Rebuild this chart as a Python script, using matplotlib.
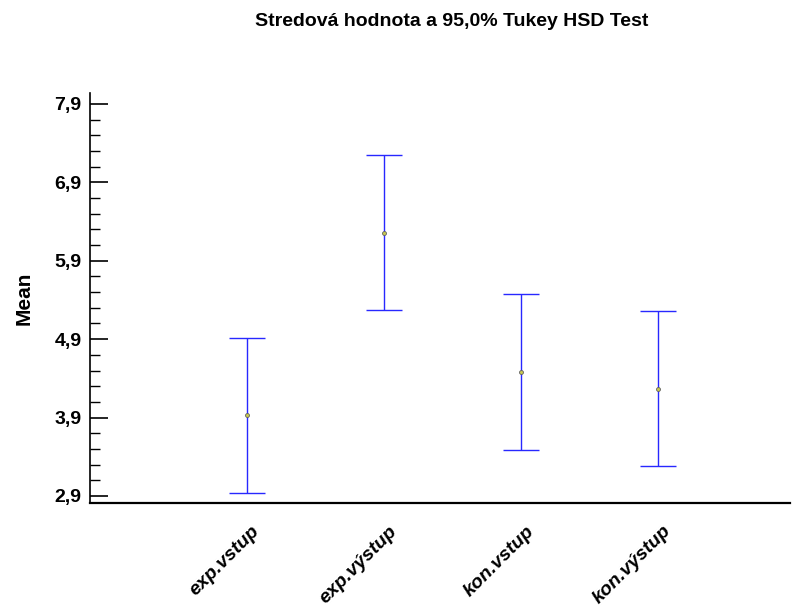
import matplotlib.pyplot as plt
import matplotlib.transforms as mtransforms
import numpy as np

plt.rcParams['font.family'] = ['Liberation Sans', 'DejaVu Sans']

# Data
groups = ["exp.vstup", "exp.výstup", "kon.vstup", "kon.výstup"]
means = [3.93, 6.26, 4.48, 4.27]
half_width = [0.99, 0.99, 0.99, 0.99]
yticks = [2.9, 3.9, 4.9, 5.9, 6.9, 7.9]

fig = plt.figure(figsize=(8.05, 6.15), dpi=100)
ax = fig.add_axes([90 / 805, 112 / 615, 700 / 805, 410 / 615])

x = np.arange(1, len(groups) + 1)
ax.errorbar(x, means, yerr=half_width, fmt='none', ecolor='#2828ff',
            elinewidth=1.0, capsize=13, capthick=1.0)
ax.scatter(x, means, s=8, marker='o', facecolor='#c8c850', edgecolor='#606060',
           linewidth=0.6, zorder=3)

ax.set_xlim(-0.146, 4.96)
ax.set_ylim(2.81, 8.04)

ax.spines['top'].set_visible(False)
ax.spines['right'].set_visible(False)
ax.spines['left'].set_linewidth(1.2)
ax.spines['bottom'].set_linewidth(1.6)

ax.set_yticks(yticks)
ax.set_yticklabels([f"{v:.1f}".replace('.', ',') for v in yticks],
                   fontsize=14, fontweight='bold')
ax.set_yticks(np.arange(2.9, 8.0, 0.2), minor=True)
ax.tick_params(axis='y', which='major', direction='in', length=13, width=1.2, pad=6)
ax.tick_params(axis='y', which='minor', direction='in', length=7, width=1.0)

ax.set_xticks(x)
ax.set_xticklabels(groups, rotation=45, ha='right', rotation_mode='anchor',
                   fontsize=14, fontweight='bold', fontstyle='italic')
ax.tick_params(axis='x', length=0, pad=14)
# nudge the rotated labels a little to the right
shift = mtransforms.ScaledTranslation(4 / 100, 0, fig.dpi_scale_trans)
for lbl in ax.get_xticklabels():
    lbl.set_transform(lbl.get_transform() + shift)

ax.set_ylabel("Mean", fontsize=15, fontweight='bold', labelpad=15)

fig.text(452 / 805, 1 - 22 / 615, "Stredová hodnota a 95,0% Tukey HSD Test",
         ha='center', va='center', fontsize=14, fontweight='bold')

fig.savefig("out.png", dpi=100)
